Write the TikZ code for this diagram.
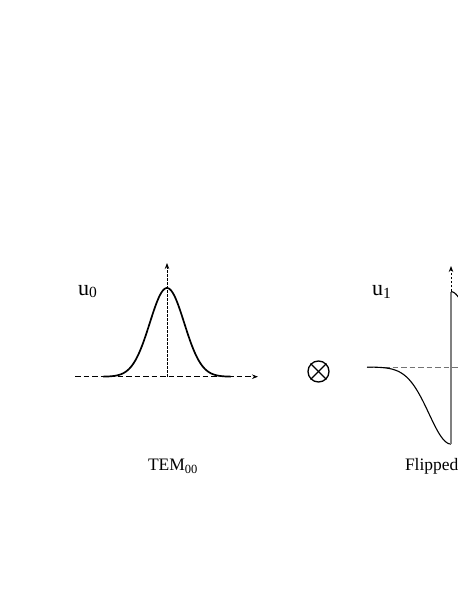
\documentclass[tikz,border=0pt]{standalone}
\usepackage{fontspec}
\setmainfont{Liberation Serif}
\usetikzlibrary{arrows.meta}
\begin{document}
\begin{tikzpicture}[x=1pt,y=-1pt,
  haxis/.style={line width=0.8pt, dash pattern=on 5.5pt off 3pt},
  vaxis/.style={line width=0.8pt, dash pattern=on 2.5pt off 1.5pt},
  raxis/.style={line width=0.9pt, draw=black!55, dash pattern=on 5.5pt off 3pt},
  tipped/.style={-{Stealth[length=6pt,width=4.5pt]}},
  thickcurve/.style={line width=1.7pt, line join=round},
  thincurve/.style={line width=1.1pt, line join=round},
  lbl/.style={anchor=base west, inner sep=0pt, outer sep=0pt}]
\clip (0,0) rectangle (458,592);
\fill[white] (0,0) rectangle (458,592);

% left plot: TEM00
\coordinate (LxS) at (75,376.7);
\coordinate (LxE) at (258,376.7);
\coordinate (Lo) at (167,376.7);
\coordinate (LyE) at (167,263);
\draw[haxis,tipped] (LxS) -- (LxE);
\draw[vaxis,tipped] (Lo) -- (LyE);
\draw[thickcurve] plot[domain=-64:64, samples=120, smooth]
  ({167+\x},{376.7-88.7*exp(-((\x)*(\x))/591.7)});

% tensor product symbol
\node[circle, draw, line width=1.3pt, minimum size=21pt, inner sep=0pt] (ot) at (318.5,371.5) {};
\draw[line width=1.3pt] (ot.north west) -- (ot.south east);
\draw[line width=1.3pt] (ot.north east) -- (ot.south west);

% right plot: flipped
\coordinate (RxS) at (367,367);
\coordinate (RxE) at (480,367);
\coordinate (Ro) at (451,367);
\coordinate (RyE) at (451,266);
\coordinate (Rtop) at (451,291.7);
\coordinate (Rbot) at (451,444);
\draw[raxis] (RxS) -- (RxE);
\draw[vaxis,tipped] (Ro) -- (RyE);
\draw[thincurve] plot[domain=-84:0, samples=120, smooth]
  ({451+\x},{367+77*exp(-((\x)*(\x))/968)});
\draw[line width=1.1pt, black!50] (Rbot) -- (Rtop);
\draw[thincurve] plot[domain=0:30, samples=40, smooth]
  ({451+\x},{367-75.3*exp(-((\x)*(\x))/722)});

% labels
\node[lbl] (u0) at (78,295.5) {\fontsize{22}{22}\selectfont u\raisebox{-2pt}{\fontsize{15.5}{15}\selectfont 0}};
\node[lbl] (u1) at (372,295.5) {\fontsize{22}{22}\selectfont u\raisebox{-2.5pt}{\fontsize{15.5}{15}\selectfont 1}};
\node[lbl] (tem) at (148,470) {\fontsize{17.5}{17.5}\selectfont TEM\raisebox{-3pt}{\fontsize{12.5}{12}\selectfont 00}};
\node[lbl] (flip) at (405,470) {\fontsize{17.5}{17.5}\selectfont Flipped};
\end{tikzpicture}
\end{document}
